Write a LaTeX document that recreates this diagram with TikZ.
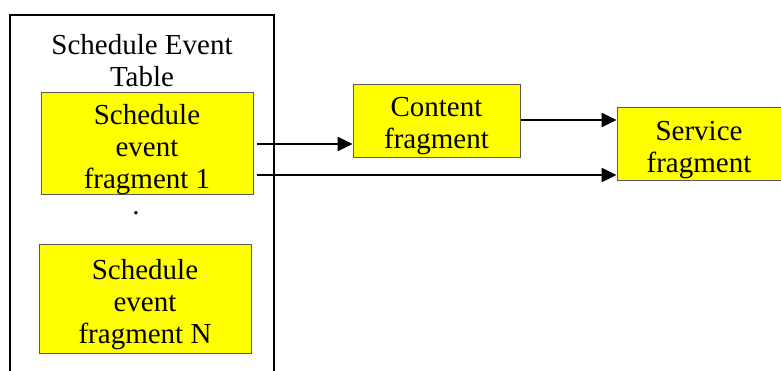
\documentclass[tikz,border=0pt]{standalone}
\usepackage{fontspec}
\setmainfont{Liberation Serif}
\usepackage{tikz}
\usetikzlibrary{arrows.meta}
\usepackage{xcolor}
\definecolor{fragyellow}{RGB}{255, 255, 0}
\definecolor{fraggray}{RGB}{90, 90, 90}
\newcommand{\fragstrut}[1]{\rule{0pt}{#1}}

\tikzset{
  fragbox/.style={rectangle, draw=fraggray, line width=1pt, fill=fragyellow, align=center, inner sep=0pt, font=\fontsize{29}{32}\selectfont},
  fragarrow/.style={line width=2.5pt, -{Triangle[length=15pt,width=14pt]}}
}

\begin{document}
\begin{tikzpicture}[x=1pt, y=-1pt]
                \useasboundingbox (0,0) rectangle (781,371);
                % Schedule event table
                \draw[line width=1.5pt] (10,380) -- (10,15) -- (274,15) -- (274,380);
                \node[align=center, inner sep=0pt, font=\fontsize{29}{32}\selectfont] (title) at (142,58) {\fragstrut{25pt}Schedule Event\\Table};
                \node[fragbox, minimum width=212pt, minimum height=102pt] (event1) at (147,144) {\fragstrut{31pt}Schedule\\event\\fragment 1};
                \node[anchor=base, inner sep=0pt, font=\fontsize{29}{32}\selectfont] (dots) at (136,215) {.};
                \node[fragbox, minimum width=212pt, minimum height=108pt] (eventN) at (145,299) {\fragstrut{31pt}Schedule\\event\\fragment N};

                % Fragments
                \node[fragbox, minimum width=167pt, minimum height=73pt] (content) at (436.5,121.5) {\fragstrut{28pt}Content\\fragment};
                \node[fragbox, minimum width=164pt, minimum height=73pt] (service) at (699,144.5) {\fragstrut{31pt}Service\\fragment};

                % Arrows
                \draw[fragarrow] ([xshift=3pt]event1.east) -- (event1.east -| content.west);
                \draw[fragarrow] ([xshift=3pt,yshift=-31pt]event1.east) -- ([yshift=-31pt]event1.east -| service.west);
                \draw[fragarrow] ([yshift=1.5pt]content.east) -- ([yshift=1.5pt]content.east -| service.west);
            \end{tikzpicture}
\end{document}
